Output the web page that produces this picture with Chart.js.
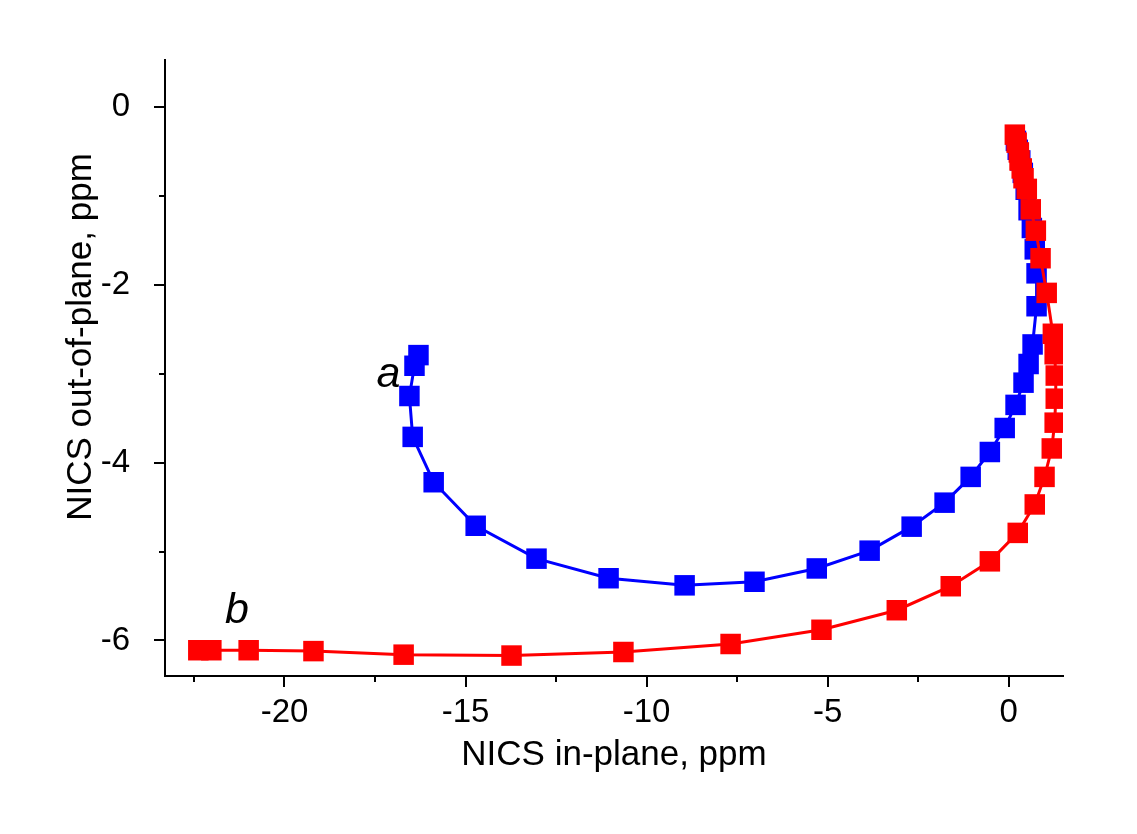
<!DOCTYPE html>
<html><head><meta charset="utf-8">
<script src="https://cdn.jsdelivr.net/npm/chart.js@4/dist/chart.umd.min.js"></script>
<style>html,body{margin:0;padding:0;background:#fff;}#wrap{width:1137px;height:834px;}</style>
</head><body><div id="wrap"><canvas id="c" width="1137" height="834"></canvas></div>
<script>
// Series a (blue)
const seriesAX = [-16.30,-16.41,-16.55,-16.46,-15.88,-14.72,-13.04,-11.05,-8.95,-7.02,-5.30,-3.84,-2.68,-1.77,-1.05,-0.52,-0.11,0.19,0.41,0.55,0.66,0.77,0.77,0.72,0.64,0.55,0.47,0.39,0.32,0.25,0.20];
const seriesAY = [-2.79,-2.91,-3.25,-3.71,-4.22,-4.71,-5.08,-5.30,-5.38,-5.34,-5.19,-4.99,-4.72,-4.45,-4.16,-3.88,-3.61,-3.35,-3.10,-2.89,-2.67,-2.24,-1.87,-1.60,-1.36,-1.16,-0.93,-0.74,-0.60,-0.48,-0.38];
// Series b (red)
const seriesBX = [-22.38,-22.02,-20.99,-19.20,-16.71,-13.73,-10.64,-7.68,-5.17,-3.09,-1.60,-0.52,0.25,0.72,0.99,1.19,1.27,1.30,1.30,1.27,1.22,1.05,0.88,0.75,0.61,0.50,0.41,0.36,0.30,0.28,0.22,0.17];
const seriesBY = [-6.11,-6.11,-6.11,-6.12,-6.16,-6.17,-6.13,-6.04,-5.88,-5.66,-5.39,-5.11,-4.79,-4.47,-4.16,-3.84,-3.55,-3.28,-3.02,-2.78,-2.55,-2.09,-1.70,-1.39,-1.15,-0.92,-0.80,-0.69,-0.60,-0.51,-0.40,-0.31];
// Ticks
const xTickValues = [-22.5,-20,-17.5,-15,-12.5,-10,-7.5,-5,-2.5,0];
const xLabelStep = 5;
const yTickValues = [-6,-5,-4,-3,-2,-1,0];
const yLabelStep = 2;
const xTitle = 'NICS in-plane, ppm';
const yTitle = 'NICS out-of-plane, ppm';
const curveNames = ['a','b'];

const toPts = (xs, ys) => xs.map((x, i) => ({x, y: ys[i]}));
const FONT = "'Liberation Sans', Arial, sans-serif";
const isMajor = (v, step) => Math.abs(v / step - Math.round(v / step)) < 1e-6;

const decor = {
  id: 'decor',
  afterDraw(chart) {
    const ctx = chart.ctx, ca = chart.chartArea;
    const xs = chart.scales.x, ys = chart.scales.y;
    ctx.save();
    ctx.strokeStyle = '#000'; ctx.lineWidth = 2;
    xs.ticks.forEach(t => {
      const px = Math.round(xs.getPixelForValue(t.value));
      const len = isMajor(t.value, xLabelStep) ? 11 : 6;
      ctx.beginPath(); ctx.moveTo(px, ca.bottom); ctx.lineTo(px, ca.bottom + len); ctx.stroke();
    });
    ys.ticks.forEach(t => {
      const py = Math.round(ys.getPixelForValue(t.value));
      const len = isMajor(t.value, yLabelStep) ? 11 : 6;
      ctx.beginPath(); ctx.moveTo(ca.left, py); ctx.lineTo(ca.left - len, py); ctx.stroke();
    });
    // y title
    ctx.fillStyle = '#000';
    ctx.font = '35px ' + FONT;
    ctx.textAlign = 'center'; ctx.textBaseline = 'middle';
    ctx.translate(81, 337); ctx.rotate(-Math.PI / 2);
    ctx.fillText(yTitle, 0, 0);
    ctx.restore();
    // curve labels
    ctx.save();
    ctx.fillStyle = '#000';
    ctx.font = 'italic 43px ' + FONT;
    ctx.textAlign = 'center'; ctx.textBaseline = 'alphabetic';
    ctx.fillText(curveNames[0], xs.getPixelForValue(-17.13), ys.getPixelForValue(-3.146));
    ctx.fillText(curveNames[1], xs.getPixelForValue(-21.31), ys.getPixelForValue(-5.809));
    ctx.restore();
  }
};

new Chart(document.getElementById('c'), {
  type: 'scatter',
  data: {
    datasets: [
      { label: 'a', data: toPts(seriesAX, seriesAY), showLine: true, order: 1,
        borderColor: '#0000ff', backgroundColor: '#0000ff', borderWidth: 3,
        pointStyle: 'rect', pointRadius: 14.5, pointHoverRadius: 14.5, pointBorderWidth: 0, tension: 0 },
      { label: 'b', data: toPts(seriesBX, seriesBY), showLine: true, order: 0,
        borderColor: '#ff0000', backgroundColor: '#ff0000', borderWidth: 3,
        pointStyle: 'rect', pointRadius: 14.5, pointHoverRadius: 14.5, pointBorderWidth: 0, tension: 0 }
    ]
  },
  options: {
    responsive: false, animation: false,
    layout: { padding: { top: 60, right: 74, left: 0, bottom: 0 } },
    plugins: { legend: { display: false }, tooltip: { enabled: false } },
    scales: {
      x: {
        type: 'linear', min: -23.3, max: 1.5,
        afterBuildTicks: s => { s.ticks = xTickValues.map(v => ({ value: v })); },
        afterFit: s => { s.height = 158; },
        grid: { display: false },
        border: { display: true, color: '#000', width: 2 },
        ticks: { autoSkip: false, maxRotation: 0, padding: 9, color: '#000',
          font: { family: FONT, size: 33 },
          callback: v => isMajor(v, xLabelStep) ? String(v) : '' },
        title: { display: true, text: xTitle, color: '#000', font: { family: FONT, size: 35 },
          padding: { top: 58, bottom: 58 } }
      },
      y: {
        type: 'linear', min: -6.4, max: 0.53,
        afterBuildTicks: s => { s.ticks = yTickValues.map(v => ({ value: v })); },
        afterFit: s => { s.width = 165; },
        grid: { display: false },
        border: { display: true, color: '#000', width: 2 },
        ticks: { autoSkip: false, padding: 27, color: '#000',
          font: { family: FONT, size: 33 },
          callback: v => isMajor(v, yLabelStep) ? String(v) : '' }
      }
    }
  },
  plugins: [decor]
});
</script></body></html>
